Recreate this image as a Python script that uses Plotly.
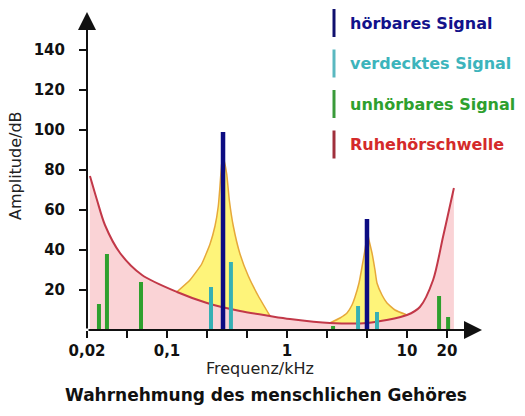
import plotly.graph_objects as go

# ---------------- data ----------------
# hearing threshold (Ruhehörschwelle): frequency in kHz, level in dB
thr_freq = [0.0228, 0.0261, 0.0304, 0.0406, 0.0619, 0.1212, 0.2154, 0.4058, 0.7218, 1.059,
            2.28, 4.64, 10.0, 12.8, 16.5, 19.95, 22.4, 24.6]
thr_db = [77, 65, 52.5, 38.5, 27.5, 19, 13.5, 9.5, 7, 5.5, 3.5, 3.5, 7.5, 11.5, 25, 46.5, 60, 71]

# masking curves (yellow)
mask1_freq = [0.1205, 0.1555, 0.1946, 0.2283, 0.2512, 0.2676, 0.2765, 0.2856, 0.2944,
              0.3145, 0.3305, 0.3568, 0.4058, 0.4759, 0.5768, 0.7218]
mask1_db = [19, 25, 33, 43, 52, 62, 72, 83, 86, 78, 65, 52, 38, 27, 17, 7]
mask2_freq = [2.28, 2.765, 3.162, 3.48, 3.687, 3.981, 4.217, 4.55, 4.64, 4.82, 5.11, 5.41,
              5.62, 6.19, 6.81, 7.94, 10.0]
mask2_db = [3.5, 6, 8.5, 12.5, 16.5, 23.5, 31.5, 43.5, 50, 45, 38.5, 30, 23.5, 17.5, 13.5, 10, 7.5]

# signals
audible_freq = [0.293, 4.64]
audible_db = [99, 55.5]
masked_freq = [0.2326, 0.341, 3.91, 5.62]
masked_db = [21.5, 34, 12, 9]
inaudible_freq = [0.0271, 0.0316, 0.0607, 2.42, 18.5, 22.0]
inaudible_db = [13, 38, 24, 2, 17, 6.5]

y_ticks = [20, 40, 60, 80, 100, 120, 140]
x_tick_exp = [-5, -4, -3, -2, -1, 0, 1, 2, 3, 4]
x_tick_labels = ["0,02", "", "0,1", "", "", "1", "", "", "10", "20"]

legend_labels = ["hörbares Signal", "verdecktes Signal", "unhörbares Signal", "Ruhehörschwelle"]
legend_text_colors = ["#12128a", "#3cb4bc", "#2ea02e", "#d42a2a"]
legend_bar_colors = ["#10106e", "#5ab8c0", "#3a9a3a", "#a0303c"]

x_title = "Frequenz/kHz"
y_title = "Amplitude/dB"
bottom_title = "Wahrnehmung des menschlichen Gehöres"

# ---------------- layout geometry (pixels) ----------------
W_PX, H_PX = 525, 416
L, R, T, B = 87, 482, 12, 330
PW, PH = R - L, B - T
X_LOG0 = -5 / 3
PX_PER_DEC = 120.0
x_range = [X_LOG0, X_LOG0 + PW / PX_PER_DEC]
y_range = [0, PH / 2.0]


def px(x):
    return (x - L) / PW


def py(y):
    return (B - y) / PH


def segments(xs, ys):
    sx, sy = [], []
    for f, v in zip(xs, ys):
        sx += [f, f, None]
        sy += [0, v, None]
    return sx, sy


fig = go.Figure()

# masking curves (yellow)
for fx, fy in [(mask1_freq, mask1_db), (mask2_freq, mask2_db)]:
    fig.add_trace(go.Scatter(x=fx, y=fy, mode="lines", fill="tozeroy",
                             fillcolor="#fef47a",
                             line=dict(color="#e6a83a", width=1.5, shape="spline", smoothing=0.4),
                             hoverinfo="skip", showlegend=False))

# threshold
fig.add_trace(go.Scatter(x=thr_freq, y=thr_db, mode="lines", fill="tozeroy",
                         fillcolor="#fad3d6",
                         line=dict(color="#c23848", width=2, shape="spline", smoothing=0.8),
                         hoverinfo="skip", showlegend=False))

# signals
for xs, ys, col, w in [(inaudible_freq, inaudible_db, "#2ea02e", 4),
                       (masked_freq, masked_db, "#36b0b4", 4),
                       (audible_freq, audible_db, "#0c0c82", 4.5)]:
    sx, sy = segments(xs, ys)
    fig.add_trace(go.Scatter(x=sx, y=sy, mode="lines", line=dict(color=col, width=w),
                             hoverinfo="skip", showlegend=False))

tick_font = dict(family="DejaVu Sans", size=15, color="#111111", weight="bold")

fig.update_xaxes(type="log", range=x_range, showgrid=False, zeroline=False, showline=False,
                 tickmode="array", tickvals=[10 ** (k / 3) for k in x_tick_exp],
                 ticktext=x_tick_labels, ticks="outside", ticklen=7, tickwidth=2,
                 tickcolor="#111111", tickfont=tick_font)
fig.update_yaxes(range=y_range, showgrid=False, zeroline=False, showline=False,
                 tickmode="array", tickvals=y_ticks, ticks="outside", ticklen=7,
                 tickwidth=2, tickcolor="#111111", tickfont=tick_font, ticklabelstandoff=11)

annotations = []
# axis arrows
annotations.append(dict(xref="paper", yref="paper", x=px(L), y=py(T), ax=0, ay=B - T,
                        axref="pixel", ayref="pixel", showarrow=True, arrowhead=2,
                        arrowsize=1.8, arrowwidth=2, arrowcolor="#111111", text=""))
annotations.append(dict(xref="paper", yref="paper", x=px(R), y=py(B), ax=-(R - L), ay=0,
                        axref="pixel", ayref="pixel", showarrow=True, arrowhead=2,
                        arrowsize=1.8, arrowwidth=2, arrowcolor="#111111", text=""))

# titles
annotations.append(dict(xref="paper", yref="paper", x=px(260), y=py(368), text=x_title,
                        showarrow=False, xanchor="center", yanchor="middle",
                        font=dict(family="DejaVu Sans", size=16, color="#222222")))
annotations.append(dict(xref="paper", yref="paper", x=px(15), y=py(166), text=y_title,
                        showarrow=False, xanchor="center", yanchor="middle", textangle=-90,
                        font=dict(family="DejaVu Sans", size=16, color="#222222")))
annotations.append(dict(xref="paper", yref="paper", x=px(266), y=py(395), text=bottom_title,
                        showarrow=False, xanchor="center", yanchor="middle",
                        font=dict(family="DejaVu Sans", size=17, color="#111111", weight="bold")))

shapes = []
for i, (lab, tc, bc) in enumerate(zip(legend_labels, legend_text_colors, legend_bar_colors)):
    yc = 23 + 40.5 * i
    annotations.append(dict(xref="paper", yref="paper", x=px(348), y=py(yc), text=lab,
                            showarrow=False, xanchor="left", yanchor="middle",
                            font=dict(family="DejaVu Sans", size=16, color=tc, weight="bold")))
    shapes.append(dict(type="line", xref="paper", yref="paper", x0=px(334), x1=px(334),
                       y0=py(yc - 14), y1=py(yc + 14), line=dict(color=bc, width=3)))

fig.update_layout(width=W_PX, height=H_PX,
                  margin=dict(l=L, r=W_PX - R, t=T, b=H_PX - B, pad=0),
                  paper_bgcolor="white", plot_bgcolor="white",
                  annotations=annotations, shapes=shapes, showlegend=False)

fig.write_html("out.html", config={"displayModeBar": False},
               post_script="document.body.style.margin='0';document.body.style.padding='0';")
